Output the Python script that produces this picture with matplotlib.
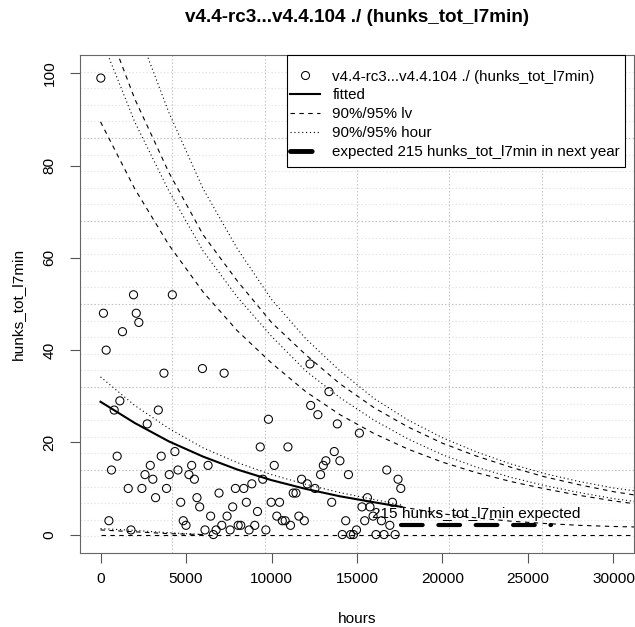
import numpy as np
import matplotlib
matplotlib.use("Agg")
import matplotlib.pyplot as plt
from matplotlib.lines import Line2D
from matplotlib.patches import Rectangle

plt.rcParams['font.family'] = ['Liberation Sans', 'DejaVu Sans']
plt.rcParams['lines.scale_dashes'] = False

title = "v4.4-rc3...v4.4.104 ./ (hunks_tot_l7min)"

# observed hunks per release interval
hours = [18, 1930, 4200, 170, 2090, 2240, 1285, 330, 3710, 5960, 7230, 1130, 800,
         3380, 2730, 9820, 973, 640, 3550, 4350, 2910, 2600, 3060, 1620, 2420,
         3220, 3860, 4020, 4530, 5330, 5170, 5490, 6290, 4690, 5640, 5800, 4840,
         5000, 490, 1780, 6440, 6930, 7730, 7400, 7890, 8380, 8530, 8850, 9180,
         9340, 10160, 9490, 9980, 10470, 10960, 10310, 10630, 10800, 11110, 11600,
         11920, 11270, 11430, 11760, 12090, 12250, 12290, 6110, 6600, 6760, 7090,
         7580, 8050, 8200, 8690, 9020, 9670, 13360, 12710, 13850, 15140, 13670,
         13180, 14000, 13030, 12870, 14500, 12540, 13520, 14340, 15450, 14970,
         14140, 14630, 14790, 16740, 17400, 17560, 15610, 17070, 15290, 15760,
         15940, 16430, 16920, 16110, 16580, 17230]
hunks = [99, 52, 52, 48, 48, 46, 44, 40, 35, 36, 35, 29, 27,
         27, 24, 25, 17, 14, 17, 18, 15, 13, 12, 10, 10,
         8, 10, 13, 14, 15, 13, 12, 15, 7, 8, 6, 3,
         2, 3, 1, 4, 9, 6, 4, 10, 10, 7, 11, 5,
         19, 15, 12, 7, 7, 19, 4, 3, 3, 2, 4,
         3, 9, 9, 12, 11, 37, 28, 1, 0, 1, 2,
         1, 2, 2, 1, 2, 1, 31, 26, 24, 22, 18,
         16, 16, 15, 13, 13, 10, 7, 3, 3, 1,
         0, 0, 0, 14, 12, 10, 8, 7, 6, 6,
         4, 3, 2, 0, 0, 0]

# fitted curve and bands
fit_x = [0, 2000, 4000, 6000, 8000, 10000, 12000, 14000, 16000, 17600]
fitted = [28.8, 24.2, 20.2, 16.9, 14.1, 11.8, 9.9, 8.3, 7.0, 6.0]
hour_mid = [34.2, 28.0, 23.0, 18.8, 15.6, 13.0, 10.9, 9.1, 7.6, 6.4]

ext_x = [17600, 20000, 22000, 24000, 26000, 28000, 30000, 31200]
fitted_ext = [6.0, 4.5, 3.6, 2.9, 2.4, 2.0, 1.75, 1.65]

band_x = [0, 2000, 4000, 6000, 8000, 10000, 12000, 14000, 16000, 18000,
          20000, 22000, 24000, 26000, 28000, 30000, 31200]
lv_hi90 = [89.5, 75.0, 62.8, 52.6, 44.2, 37.2, 31.0, 26.0, 21.9, 18.5,
           15.7, 13.4, 11.5, 9.9, 8.5, 7.3, 6.7]
hour_hi90 = [108, 89.5, 74.5, 61.5, 51.5, 43.0, 35.5, 29.7, 24.8, 20.7,
             17.3, 14.6, 12.4, 10.6, 9.1, 7.8, 7.2]
lv_hi95 = [114, 94.5, 78.5, 65.0, 55.0, 46.0, 39.0, 32.7, 27.5, 23.3,
           19.8, 17.0, 14.6, 12.5, 10.8, 9.3, 8.6]
hour_hi95 = [136, 111, 91.5, 75.0, 62.0, 51.0, 42.5, 35.5, 29.5, 24.8,
             21.0, 17.9, 15.3, 13.2, 11.5, 10.1, 9.5]

low_x = [0, 2000, 4000, 6000]
lv_lo = [1.0, 0.6, 0.2, 0.0]
hour_lo = [1.3, 0.9, 0.4, 0.0]
lv_lo95_x = [0, 31200]
lv_lo95 = [0, 0]

expected_start = 17600
expected_span = 8760
expected_level = 2.0
expected_total = 215

vgrid = [4200, 9600, 15000, 20400, 25800]

fig = plt.figure(figsize=(6.35, 6.27), dpi=100)
ax = fig.add_axes([80 / 635, 74 / 627, 554 / 635, 498 / 627])
ax.set_xlim(-1200, 31200)
ax.set_ylim(-4, 104)

dotted = (0, (0.8, 2.0))
dashed = (0, (3.2, 3.2))
thick_dash = (0, (15.6, 11.3))

# grid
hgrid = np.arange(-0.4, 104, 3.6)
for i, h in enumerate(hgrid):
    dark = (i % 5 == 4)
    ax.axhline(h, color='#bdbdbd' if dark else '#e4e4e4', lw=0.8,
               linestyle=(0, (1, 1.5)), zorder=0)
for v in vgrid:
    ax.axvline(v, color='#c4c4c4', lw=0.8, linestyle=(0, (1, 1.5)), zorder=0)

ax.scatter(hours, hunks, s=34, facecolors='none', edgecolors='black',
           linewidths=0.75, zorder=3)

ax.plot(fit_x, fitted, color='black', lw=1.5, zorder=4)
ax.plot(fit_x, hour_mid, color='black', lw=0.8, linestyle=dotted)
ax.plot(ext_x, fitted_ext, color='black', lw=0.8, linestyle=dashed)

ax.plot(band_x, lv_hi90, color='black', lw=0.8, linestyle=dashed)
ax.plot(band_x, lv_hi95, color='black', lw=0.8, linestyle=dashed)
ax.plot(band_x, hour_hi90, color='black', lw=0.8, linestyle=dotted)
ax.plot(band_x, hour_hi95, color='black', lw=0.8, linestyle=dotted)
ax.plot(low_x, lv_lo, color='black', lw=0.8, linestyle=dashed)
ax.plot(low_x, hour_lo, color='black', lw=0.8, linestyle=dotted)
ax.plot(lv_lo95_x, lv_lo95, color='black', lw=0.8, linestyle=dashed)

ax.plot([expected_start, expected_start + expected_span],
        [expected_level, expected_level], color='black', lw=3,
        linestyle=thick_dash, solid_capstyle='round', dash_capstyle='round',
        zorder=5)
ax.text(expected_start + expected_span / 2, expected_level + 0.9,
        f"{expected_total} hunks_tot_l7min expected", ha='center',
        va='bottom', fontsize=11.1, zorder=6)

# axes style
for s in ax.spines.values():
    s.set_color('#666666')
    s.set_linewidth(0.8)
ax.set_xticks([0, 5000, 10000, 15000, 20000, 25000, 30000])
ax.set_yticks([0, 20, 40, 60, 80, 100])
ax.tick_params(direction='out', length=7, width=0.8, color='#555555',
               labelsize=11.1)
ax.tick_params(axis='x', pad=7)
ax.tick_params(axis='y', pad=10)
plt.setp(ax.get_yticklabels(), rotation=90, va='center')

fig.text(357 / 635, 1 - 18 / 627, title, ha='center', va='center',
         fontsize=13.6, fontweight='bold')
fig.text(357 / 635, 1 - 619 / 627, "hours", ha='center', va='center',
         fontsize=11.1)
fig.text(18 / 635, 1 - 304 / 627, "hunks_tot_l7min", ha='center',
         va='center', rotation=90, fontsize=11.1)

# legend box drawn separately so the padding matches
box = Rectangle((287 / 635, 1 - 167 / 627), (625 - 287) / 635, 112 / 627,
                transform=fig.transFigure, facecolor='white',
                edgecolor='black', lw=0.8, zorder=9, clip_on=False)
ax.add_patch(box)

handles = [
    Line2D([], [], marker='o', markerfacecolor='none', markeredgecolor='black',
           markersize=5.8, markeredgewidth=0.75, linestyle='none'),
    Line2D([], [], color='black', lw=1.5),
    Line2D([], [], color='black', lw=0.8, linestyle=dashed),
    Line2D([], [], color='black', lw=0.8, linestyle=dotted),
    Line2D([], [], color='black', lw=3.5, linestyle=thick_dash,
           dash_capstyle='round'),
]
labels = [title, "fitted", "90%/95% lv", "90%/95% hour",
          f"expected {expected_total} hunks_tot_l7min in next year"]
leg = ax.legend(handles, labels, loc='upper left',
                bbox_to_anchor=(290 / 635, 1 - 69.5 / 627),
                bbox_transform=fig.transFigure, fontsize=10.9,
                frameon=False, borderpad=0, labelspacing=0.33,
                handlelength=2.0, handletextpad=0.8, borderaxespad=0)
leg.set_zorder(10)

fig.savefig("out.png", dpi=100)
